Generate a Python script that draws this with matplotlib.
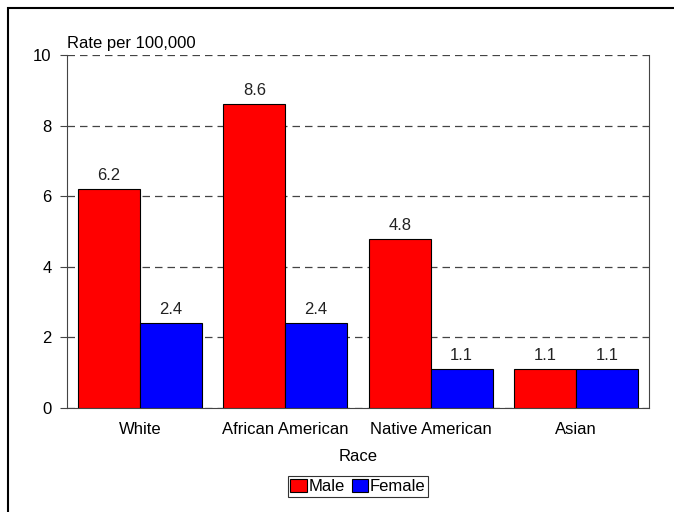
import numpy as np
import matplotlib.pyplot as plt
from matplotlib.patches import Rectangle

plt.rcParams['font.family'] = ['Liberation Sans', 'DejaVu Sans']

races = ['White', 'African American', 'Native American', 'Asian']
male = [6.2, 8.6, 4.8, 1.1]
female = [2.4, 2.4, 1.1, 1.1]

fig = plt.figure(figsize=(6.74, 5.12), dpi=100)
# outer frame (only left/top edges visible in the original)
fig.patches.append(Rectangle((8 / 674, -0.1), 1.2, 1 - 8 / 512 + 0.1,
                             transform=fig.transFigure, fill=False,
                             edgecolor='black', linewidth=1.5))

ax = fig.add_axes([67 / 674, 1 - 408 / 512, (649 - 67) / 674, (408 - 55) / 512])

x = np.arange(len(races))
w = 0.425
b1 = ax.bar(x - w / 2, male, w, color='#ff0000', edgecolor='black', linewidth=0.8, label='Male', zorder=3)
b2 = ax.bar(x + w / 2, female, w, color='#0000ff', edgecolor='black', linewidth=0.8, label='Female', zorder=3)

for bars in (b1, b2):
    for r in bars:
        ax.text(r.get_x() + r.get_width() / 2, r.get_height() + 0.17, f'{r.get_height():.1f}',
                ha='center', va='bottom', fontsize=12, color='#222222')

ax.set_xlim(-0.5, 3.5)
ax.set_ylim(0, 10)
ax.set_yticks([0, 2, 4, 6, 8, 10])
ax.set_xticks(x)
ax.set_xticklabels(races, fontsize=12)
ax.tick_params(axis='y', labelsize=12, length=5, direction='out', color='#444444', pad=6)
ax.tick_params(axis='x', length=0, pad=10)
ax.yaxis.grid(True, linestyle=(0, (6, 4)), color='#444444', linewidth=0.9, zorder=0)

for s in ['left', 'right', 'bottom']:
    ax.spines[s].set_color('#444444')
ax.spines['top'].set_visible(False)

ax.text(0, 1.01, 'Rate per 100,000', transform=ax.transAxes, ha='left', va='bottom', fontsize=12)
ax.set_xlabel('Race', fontsize=12, labelpad=9)

leg = ax.legend(loc='upper center', bbox_to_anchor=(0.5, -0.193), ncol=2, fontsize=12,
                frameon=True, fancybox=False, edgecolor='black', handlelength=1.0,
                handleheight=0.85, handletextpad=0.1, columnspacing=0.4, borderpad=0.15,
                borderaxespad=0)
leg.get_frame().set_linewidth(0.8)

fig.savefig('out.png', dpi=100)
